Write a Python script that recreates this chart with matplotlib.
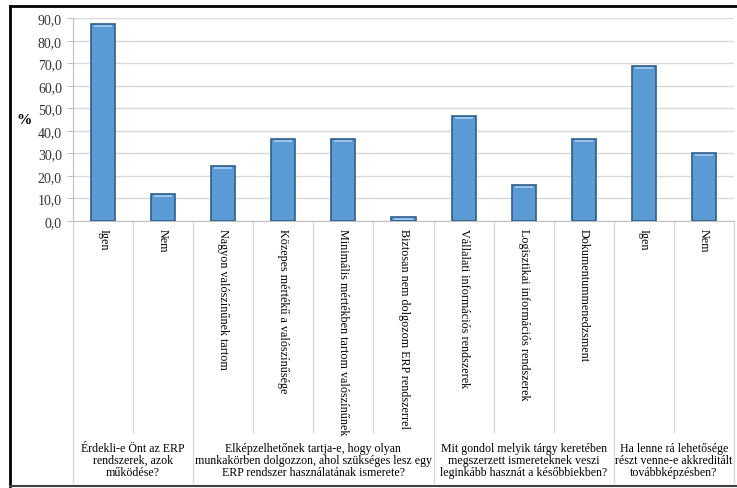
import matplotlib
matplotlib.use("Agg")
import matplotlib.pyplot as plt
import matplotlib.transforms as mtransforms
from matplotlib.lines import Line2D

plt.rcParams['font.family'] = ['Liberation Serif', 'DejaVu Serif']

answers = ["Igen", "Nem",
           "Nagyon valószínűnek tartom",
           "Közepes mértékű a valószínűsége",
           "Minimális mértékben tartom valószínűnek",
           "Biztosan nem dolgozom ERP rendszerrel",
           "Vállalati információs rendszerek",
           "Logisztikai információs rendszerek",
           "Dokumentummenedzsment",
           "Igen", "Nem"]
percent = [87.6, 11.9, 24.2, 36.3, 36.3, 1.5, 46.7, 16.0, 36.3, 68.9, 30.1]

questions = ["Érdekli-e Önt az ERP\nrendszerek, azok\nműködése?",
             "Elképzelhetőnek tartja-e, hogy olyan\nmunkakörben dolgozzon, ahol szükséges lesz egy\nERP rendszer használatának ismerete?",
             "Mit gondol melyik tárgy keretében\nmegszerzett ismereteknek veszi\nleginkább hasznát a későbbiekben?",
             "Ha lenne rá lehetősége\nrészt venne-e akkreditált\ntovábbképzésben?"]
group_sizes = [2, 4, 3, 2]

W, H = 737, 489
fig = plt.figure(figsize=(W / 100, H / 100), dpi=100)
ax = fig.add_axes([73 / W, 1 - 221.7 / H, (734 - 73) / W, (221.7 - 19.3) / H])

x = list(range(len(answers)))
ax.bar(x, percent, width=0.4, color='#5B9BD5', edgecolor='#2F5F8C', linewidth=1.2, zorder=3)
# light strip along the top of each bar
for xi, v in zip(x, percent):
    h = min(1.0, v * 0.5)
    ax.bar(xi, h, bottom=v - h - 0.4, width=0.3, color='#9CC3EA', linewidth=0, zorder=4)

ax.set_xlim(-0.5, len(answers) - 0.5)
ax.set_ylim(0, 90)
ax.set_yticks(range(0, 91, 10))
ax.set_yticklabels([f"{t:.1f}".replace('.', ',') for t in range(0, 91, 10)], fontsize=10)
ax.tick_params(axis='y', length=4, color='#BFBFBF', pad=4, labelcolor='#333333')
ax.set_xticks([])
ax.grid(axis='y', color='#D9D9D9', linewidth=1, zorder=0)
for s in ['top', 'right']:
    ax.spines[s].set_visible(False)
ax.spines['left'].set_color('#BFBFBF')
ax.spines['bottom'].set_color('#BFBFBF')
ax.set_ylabel('%', rotation=0, fontsize=11, fontweight='bold', labelpad=10, va='center')

# category separators and labels below the axis
trans = mtransforms.blended_transform_factory(ax.transData, fig.transFigure)
inner_end = 1 - 433 / H
group_end = 1 - 484 / H
bounds = [0]
for g in group_sizes:
    bounds.append(bounds[-1] + g)
for i in range(len(answers) + 1):
    y_end = group_end if i in bounds else inner_end
    ax.add_line(Line2D([i - 0.5, i - 0.5], [1 - 221.7 / H, y_end], transform=trans,
                       color='#D9D9D9', linewidth=1, clip_on=False))
for xi, lab in zip(x, answers):
    ax.text(xi, 1 - 229 / H, lab, transform=trans, rotation=-90, ha='center', va='top',
            fontsize=8.7)
for q, a, b in zip(questions, bounds[:-1], bounds[1:]):
    ax.text((a + b - 1) / 2, 1 - 461 / H, q, transform=trans, ha='center', va='center',
            fontsize=8.6, linespacing=1.05)

# picture frame
fig.add_artist(Line2D([10 / W, 1], [1 - 7 / H, 1 - 7 / H], transform=fig.transFigure,
                      color='black', linewidth=2))
fig.add_artist(Line2D([10 / W, 10 / W], [1 - 7 / H, 1 - 487 / H], transform=fig.transFigure,
                      color='black', linewidth=2))
fig.add_artist(Line2D([10 / W, 1], [1 - 487 / H, 1 - 487 / H], transform=fig.transFigure,
                      color='#404040', linewidth=1.5))

fig.savefig('out.png', dpi=100)
